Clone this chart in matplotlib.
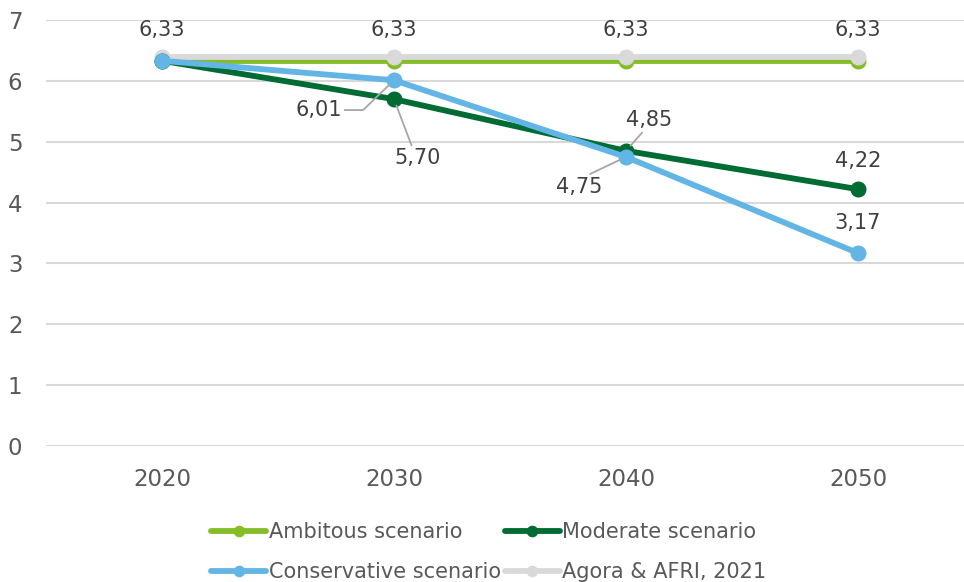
import matplotlib
matplotlib.use("Agg")
import matplotlib.pyplot as plt

years = ["2020", "2030", "2040", "2050"]

ambitious = [6.33, 6.33, 6.33, 6.33]
moderate = [6.33, 5.70, 4.85, 4.22]
conservative = [6.33, 6.01, 4.75, 3.17]
agora = [6.39, 6.39, 6.39, 6.39]

series_names = ["Ambitous scenario", "Moderate scenario",
                "Conservative scenario", "Agora & AFRI, 2021"]
colors = ["#84BD28", "#006B32", "#63B5E5", "#D9D9D9"]

plt.rcParams["font.family"] = ["DejaVu Sans"]

fig = plt.figure(figsize=(9.64, 5.82), dpi=100)
ax = fig.add_axes([46 / 964, 1 - 446 / 582, 928 / 964, 426 / 582])

x = list(range(len(years)))
lines = {}
for name, vals, c in zip(series_names, [ambitious, moderate, conservative, agora], colors):
    (ln,) = ax.plot(x, vals, color=c, lw=4.2, marker="o", ms=10.5,
                    solid_capstyle="round", label=name)
    lines[name] = ln

# draw order: gray over light green, blue over dark green
lines["Ambitous scenario"].set_zorder(2.0)
lines["Agora & AFRI, 2021"].set_zorder(2.1)
lines["Moderate scenario"].set_zorder(2.2)
lines["Conservative scenario"].set_zorder(2.3)

ax.set_xlim(-0.5, 3.5)
ax.set_ylim(0, 7)
ax.set_xticks(x)
ax.set_xticklabels(years)
ax.set_yticks(range(0, 8))
ax.tick_params(axis="both", length=0, labelsize=16.5, labelcolor="#595959")
ax.tick_params(axis="x", pad=16)
ax.tick_params(axis="y", pad=17)
ax.grid(axis="y", color="#D9D9D9", lw=1.5)
ax.set_axisbelow(True)
for s in ax.spines.values():
    s.set_visible(False)

lab_kw = dict(fontsize=15, color="#404040", ha="center", va="center")
lead = dict(arrowstyle="-", color="#A6A6A6", lw=1.3, shrinkA=0, shrinkB=5)


def fmt(v):
    return f"{v:.2f}".replace(".", ",")


# ambitious labels above the top lines
for xi, v in zip(x, ambitious):
    ax.annotate(fmt(v), (xi, v), xytext=(xi, 6.84), **lab_kw)

# 2030
ax.annotate(fmt(conservative[1]), (1, conservative[1]), xytext=(0.675, 5.52),
            arrowprops=dict(lead, relpos=(1.0, 0.5),
                            connectionstyle="angle,angleA=0,angleB=-136,rad=0"),
            **lab_kw)
ax.annotate(fmt(moderate[1]), (1, moderate[1]), xytext=(1.1, 4.73),
            arrowprops=dict(lead, relpos=(0.4, 1.0)), **lab_kw)

# 2040
ax.annotate(fmt(moderate[2]), (2, moderate[2]), xytext=(2.1, 5.36),
            arrowprops=dict(lead, relpos=(0.4, 0.0)), **lab_kw)
ax.annotate(fmt(conservative[2]), (2, conservative[2]), xytext=(1.8, 4.26),
            arrowprops=dict(lead, relpos=(0.6, 1.0)), **lab_kw)

# 2050
ax.annotate(fmt(moderate[3]), (3, moderate[3]),
            xytext=(0, 28), textcoords="offset pixels", **lab_kw)
ax.annotate(fmt(conservative[3]), (3, conservative[3]),
            xytext=(0, 30), textcoords="offset pixels", **lab_kw)

order = ["Ambitous scenario", "Conservative scenario",
         "Moderate scenario", "Agora & AFRI, 2021"]
leg = fig.legend([lines[n] for n in order], order, ncol=2, loc="center",
                 bbox_to_anchor=(0.507, 1 - 552 / 582), frameon=False,
                 fontsize=15, handlelength=2.65, handletextpad=0.1,
                 columnspacing=0.2, labelspacing=0.95, borderpad=0,
                 markerscale=0.7)
for t in leg.get_texts():
    t.set_color("#595959")

fig.savefig("out.png", dpi=100)
